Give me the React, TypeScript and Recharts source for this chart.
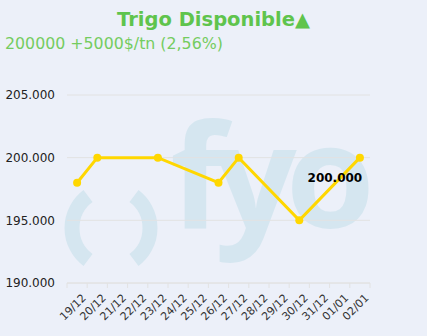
import React from 'react';
import { ComposedChart, Line, XAxis, YAxis, CartesianGrid, LabelList } from 'recharts';

// Daily quotes for "Trigo Disponible" ($/tn); null = no quote that day
const days = ['19/12', '20/12', '21/12', '22/12', '23/12', '24/12', '25/12', '26/12', '27/12', '28/12', '29/12', '30/12', '31/12', '01/01', '02/01'];
const prices: (number | null)[] = [198000, 200000, null, null, 200000, null, null, 198000, 200000, null, null, 195000, null, null, 200000];
const yTicks = [190000, 195000, 200000, 205000];

const titleText = 'Trigo Disponible▲';
const subtitleText = '200000 +5000$/tn (2,56%)';

const W = 427;
const H = 336;
const MARGIN = { top: 95, right: 57, bottom: 0, left: 0 };
const Y_AXIS_W = 67;
const X_AXIS_H = 53;
const PLOT_W = W - MARGIN.left - MARGIN.right - Y_AXIS_W;
const BAND = PLOT_W / days.length;

const FONT = '"DejaVu Sans", Verdana, sans-serif';
const BG = '#ecf0f9';
const WATERMARK = '#d5e6f0';
const GREEN = '#5fc44d';
const GREEN_LIGHT = '#74cc60';
const LINE = '#ffd700';
const GRID = '#e2e2e2';

const data = days.map((d, i) => ({ day: d, price: prices[i] }));

const fmt = (v: number) => String(Math.round(v)).replace(/\B(?=(\d{3})+(?!\d))/g, '.');

const DayTick = (props: any) => {
  const { x, y, payload, index } = props;
  const left = x - BAND / 2;
  const isLast = index === days.length - 1;
  return (
    <g>
      <line x1={left} y1={y - 8} x2={left} y2={y - 3} stroke={GRID} />
      {isLast && <line x1={x + BAND / 2} y1={y - 8} x2={x + BAND / 2} y2={y - 3} stroke={GRID} />}
      <g transform={`translate(${x + 4},${y + 2})`}>
        <text
          x={0}
          y={0}
          dy="0.71em"
          textAnchor="end"
          transform="rotate(-45)"
          fill="#333"
          fontSize={11}
          fontFamily={FONT}
        >
          {payload.value}
        </text>
      </g>
    </g>
  );
};

const LastValueLabel = (props: any) => {
  const { x, y, value, index } = props;
  if (index !== days.length - 1 || value == null) return null;
  return (
    <text x={x - 25} y={y + 24} textAnchor="middle" fontSize={12} fontWeight="bold" fill="#000" fontFamily={FONT}>
      {fmt(value)}
    </text>
  );
};

const Watermark = () => (
  <svg width={W} height={H} style={{ position: 'absolute', left: 0, top: 0 }}>
    <path d="M 88 196 A 40 40 0 0 0 88 260" fill="none" stroke={WATERMARK} strokeWidth={15} />
    <path d="M 134 196 A 40 40 0 0 1 134 260" fill="none" stroke={WATERMARK} strokeWidth={15} />
    <text x={170} y={228} fontSize={144} fontWeight="bold" fontFamily='"Open Sans", sans-serif' fill={WATERMARK} letterSpacing={-11}>
      fyo
    </text>
  </svg>
);

const Titles = () => (
  <svg width={W} height={60} style={{ position: 'absolute', left: 0, top: 0 }}>
    <text x={W / 2} y={26} textAnchor="middle" fontSize={19.5} fontWeight="bold" fill={GREEN} fontFamily={FONT}>
      {titleText}
    </text>
    <text x={5} y={49} fontSize={15.8} fill={GREEN_LIGHT} fontFamily={FONT}>
      {subtitleText}
    </text>
  </svg>
);

export default function App() {
  return (
    <div style={{ position: 'fixed', left: 0, top: 0, width: W, height: H, background: BG, overflow: 'hidden' }}>
      <Watermark />
      <Titles />
      <div style={{ position: 'absolute', left: 0, top: 0 }}>
        <ComposedChart width={W} height={H} data={data} margin={MARGIN}>
          <CartesianGrid vertical={false} stroke={GRID} />
          <XAxis
            dataKey="day"
            scale="band"
            interval={0}
            tickLine={false}
            axisLine={{ stroke: GRID }}
            height={X_AXIS_H}
            tick={<DayTick />}
          />
          <YAxis
            domain={[190000, 205000]}
            ticks={yTicks}
            width={Y_AXIS_W}
            axisLine={false}
            tickLine={false}
            tickSize={0}
            tickMargin={12}
            tickFormatter={fmt}
            tick={{ fill: '#222', fontSize: 12, fontFamily: FONT }}
          />
          <Line
            type="linear"
            dataKey="price"
            stroke={LINE}
            strokeWidth={3}
            connectNulls
            dot={{ r: 4, fill: LINE, stroke: LINE, strokeWidth: 0 }}
            activeDot={false}
            isAnimationActive={false}
          >
            <LabelList dataKey="price" content={<LastValueLabel />} />
          </Line>
        </ComposedChart>
      </div>
    </div>
  );
}
